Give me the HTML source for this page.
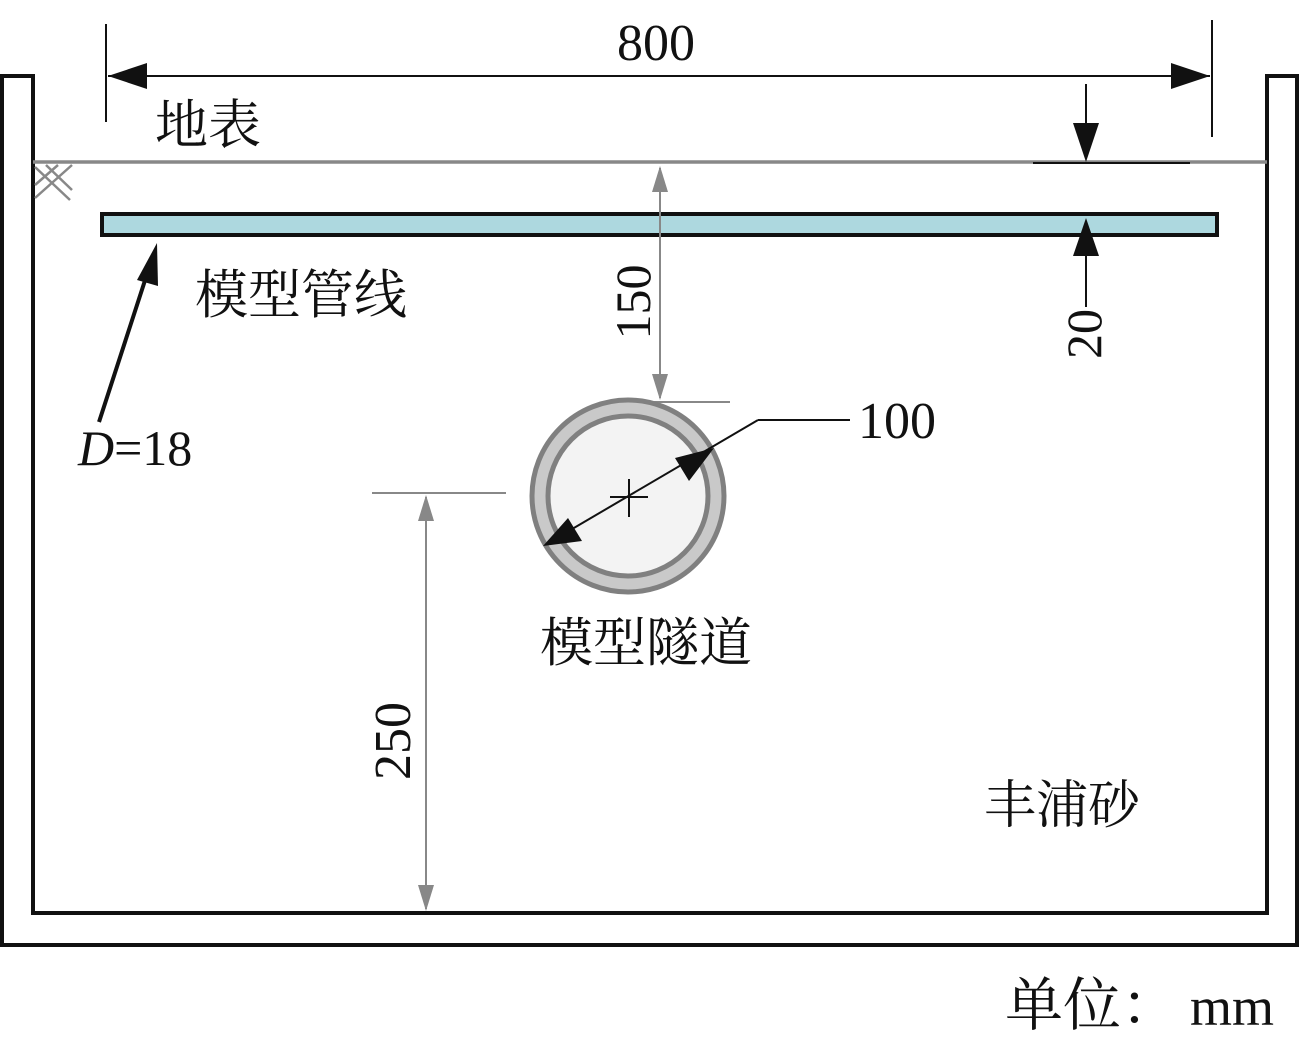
<!DOCTYPE html>
<html><head><meta charset="utf-8"><style>
html,body{margin:0;padding:0;background:#fff;}
svg{display:block;}
text{font-family:"Liberation Serif","Noto Serif CJK SC",serif;fill:#111;}
</style></head><body>
<svg width="1299" height="1045" viewBox="0 0 1299 1045" xmlns="http://www.w3.org/2000/svg">
<path d="M2,945 L2,76 L33,76 L33,913 L1267,913 L1267,76 L1297,76 L1297,945 Z" fill="#fff" stroke="#111" stroke-width="4" stroke-linejoin="miter"/>
<line x1="33" y1="162" x2="1267" y2="162" stroke="#888" stroke-width="3.5"/>
<line x1="1033" y1="163" x2="1190" y2="163" stroke="#111" stroke-width="2"/>
<g stroke="#888" stroke-width="2.5">
<line x1="35" y1="167" x2="70" y2="200"/><line x1="46" y1="165" x2="72" y2="190"/>
<line x1="35" y1="198" x2="72" y2="165"/><line x1="35" y1="185" x2="58" y2="165"/>
</g>
<line x1="106" y1="24" x2="106" y2="122" stroke="#111" stroke-width="2"/>
<line x1="1212" y1="20" x2="1212" y2="137" stroke="#111" stroke-width="2"/>
<line x1="108" y1="76" x2="1210" y2="76" stroke="#111" stroke-width="2"/>
<path d="M108,76 L147,63 L147,89 Z" fill="#111"/>
<path d="M1210,76 L1171,63 L1171,89 Z" fill="#111"/>
<text x="656" y="60" font-size="52" text-anchor="middle">800</text>
<text x="155" y="143" font-size="53">地表</text>
<rect x="102" y="214" width="1115" height="21" fill="#add8df" stroke="#111" stroke-width="4"/>
<line x1="1086" y1="84" x2="1086" y2="125" stroke="#111" stroke-width="2"/>
<path d="M1086,162 L1073,123 L1099,123 Z" fill="#111"/>
<path d="M1086,218 L1073,256 L1099,256 Z" fill="#111"/>
<line x1="1086" y1="255" x2="1086" y2="307" stroke="#111" stroke-width="2"/>
<text transform="translate(1101,334) rotate(-90)" font-size="50" text-anchor="middle">20</text>
<line x1="99" y1="422" x2="150" y2="265" stroke="#111" stroke-width="4"/>
<path d="M157,243 L137,280 L158,286 Z" fill="#111"/>
<text x="78" y="465" font-size="50"><tspan font-style="italic">D</tspan>=18</text>
<text x="195" y="313" font-size="53">模型管线</text>
<line x1="660" y1="168" x2="660" y2="398" stroke="#888" stroke-width="2"/>
<path d="M660,166 L652,192 L668,192 Z" fill="#888"/>
<path d="M660,400 L652,374 L668,374 Z" fill="#888"/>
<line x1="628" y1="402" x2="730" y2="402" stroke="#888" stroke-width="2"/>
<text transform="translate(650,302) rotate(-90)" font-size="50" text-anchor="middle">150</text>
<circle cx="628" cy="496" r="96" fill="#c9c9c9" stroke="#808080" stroke-width="5"/>
<circle cx="628" cy="496" r="80" fill="#f3f3f3" stroke="#808080" stroke-width="5"/>
<line x1="610" y1="497" x2="648" y2="497" stroke="#111" stroke-width="2"/>
<line x1="629" y1="479" x2="629" y2="517" stroke="#111" stroke-width="2"/>
<line x1="550" y1="542" x2="758" y2="420" stroke="#111" stroke-width="2"/>
<line x1="758" y1="420" x2="850" y2="420" stroke="#111" stroke-width="2"/>
<path d="M543,546 L568,518 L582,541 Z" fill="#111"/>
<path d="M714,448 L675,458 L689,481 Z" fill="#111"/>
<text x="858" y="438" font-size="52">100</text>
<text x="540" y="661" font-size="53">模型隧道</text>
<line x1="372" y1="493" x2="506" y2="493" stroke="#888" stroke-width="2"/>
<line x1="426" y1="497" x2="426" y2="909" stroke="#888" stroke-width="2"/>
<path d="M426,495 L418,521 L434,521 Z" fill="#888"/>
<path d="M426,911 L418,885 L434,885 Z" fill="#888"/>
<text transform="translate(410,741) rotate(-90)" font-size="52" text-anchor="middle">250</text>
<text x="984" y="823" font-size="52">丰浦砂</text>
<text x="1005" y="1025" font-size="58">单位：</text>
<text x="1190" y="1025" font-size="54">mm</text>
</svg>
</body></html>
